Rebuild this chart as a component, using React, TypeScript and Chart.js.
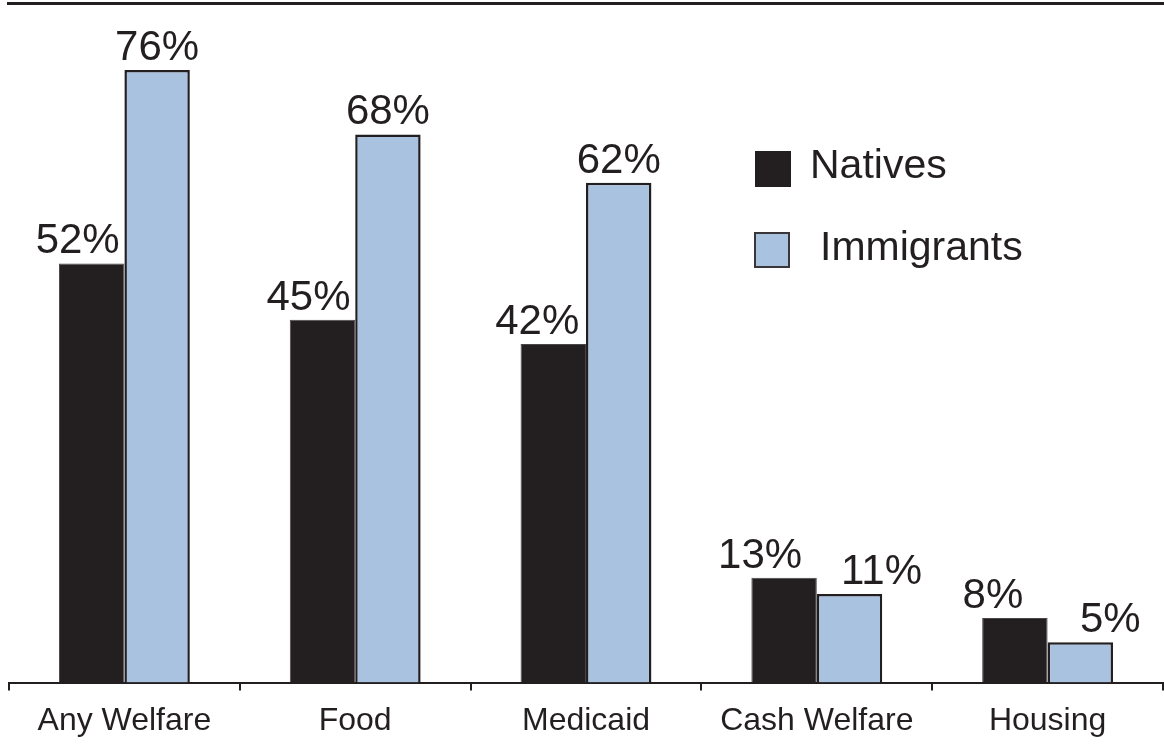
import React, { useEffect, useRef } from "react";
import { Chart, registerables } from "chart.js";

Chart.register(...registerables);

const categories = ["Any Welfare", "Food", "Medicaid", "Cash Welfare", "Housing"];
const nativesValues = [52, 45, 42, 13, 8];
const immigrantsValues = [76, 68, 62, 11, 5];
const seriesNames = ["Natives", "Immigrants"];

const TEXT = "#231f20";
const DARK = "#231f20";
const BLUE = "#a9c2e0";
const FONT = "'Liberation Sans', Arial, sans-serif";

const labelOffsets = [
  [-14, -14, -16, -24, -22],
  [0, 0, 0, 32, 30],
];

const decorPlugin = {
  id: "decor",
  afterDatasetsDraw(chart: any) {
    const ctx = chart.ctx;
    ctx.save();
    // top rule
    ctx.strokeStyle = TEXT;
    ctx.lineWidth = 3;
    ctx.beginPath();
    ctx.moveTo(7, 3.5);
    ctx.lineTo(1164, 3.5);
    ctx.stroke();

    // value labels
    ctx.fillStyle = TEXT;
    ctx.font = `42px ${FONT}`;
    ctx.textAlign = "center";
    ctx.textBaseline = "alphabetic";
    chart.data.datasets.forEach((ds: any, di: number) => {
      const meta = chart.getDatasetMeta(di);
      meta.data.forEach((el: any, i: number) => {
        const v = ds.data[i];
        ctx.fillText(`${v}%`, el.x + labelOffsets[di][i], el.y - 10);
      });
    });

    // legend
    const items = [
      { x: 755, y: 151, tx: 810, ty: 178 },
      { x: 754, y: 232, tx: 820, ty: 260 },
    ];
    ctx.textAlign = "left";
    ctx.font = `41px ${FONT}`;
    chart.data.datasets.forEach((ds: any, di: number) => {
      const it = items[di];
      ctx.fillStyle = ds.backgroundColor;
      ctx.fillRect(it.x, it.y, 36, 36);
      if (di === 1) {
        ctx.strokeStyle = "#3a3637";
        ctx.lineWidth = 2;
        ctx.strokeRect(it.x + 1, it.y + 1, 34, 34);
      }
      ctx.fillStyle = TEXT;
      ctx.fillText(ds.label, it.tx, it.ty);
    });
    ctx.restore();
  },
};

export default function App() {
  const ref = useRef<HTMLCanvasElement | null>(null);
  useEffect(() => {
    if (!ref.current) return;
    const chart = new Chart(ref.current, {
      type: "bar",
      data: {
        labels: categories,
        datasets: [
          {
            label: seriesNames[0],
            data: nativesValues,
            backgroundColor: DARK,
            borderColor: "#4a4647",
            borderWidth: 1,
            categoryPercentage: 0.567,
            barPercentage: 1,
          },
          {
            label: seriesNames[1],
            data: immigrantsValues,
            backgroundColor: BLUE,
            borderColor: DARK,
            borderWidth: 2.5,
            categoryPercentage: 0.567,
            barPercentage: 1,
          },
        ],
      },
      options: {
        responsive: false,
        devicePixelRatio: 1,
        animation: false,
        layout: { padding: { left: 9, right: 1, top: 3, bottom: 0 } },
        plugins: {
          legend: { display: false },
          tooltip: { enabled: false },
          title: { display: false },
        },
        scales: {
          x: {
            grid: {
              display: true,
              offset: true,
              drawOnChartArea: false,
              drawTicks: true,
              tickLength: 8,
              color: TEXT,
              lineWidth: 2,
            },
            border: { display: true, color: TEXT, width: 2 },
            ticks: {
              color: TEXT,
              font: { family: FONT, size: 32 },
              padding: 11,
              maxRotation: 0,
            },
          },
          y: {
            display: false,
            min: 0,
            max: 84.3,
          },
        },
      },
      plugins: [decorPlugin],
    });
    return () => chart.destroy();
  }, []);
  return (
    <canvas
      ref={ref}
      width={1164}
      height={751}
      style={{ position: "absolute", left: 0, top: 0, display: "block" }}
    />
  );
}
